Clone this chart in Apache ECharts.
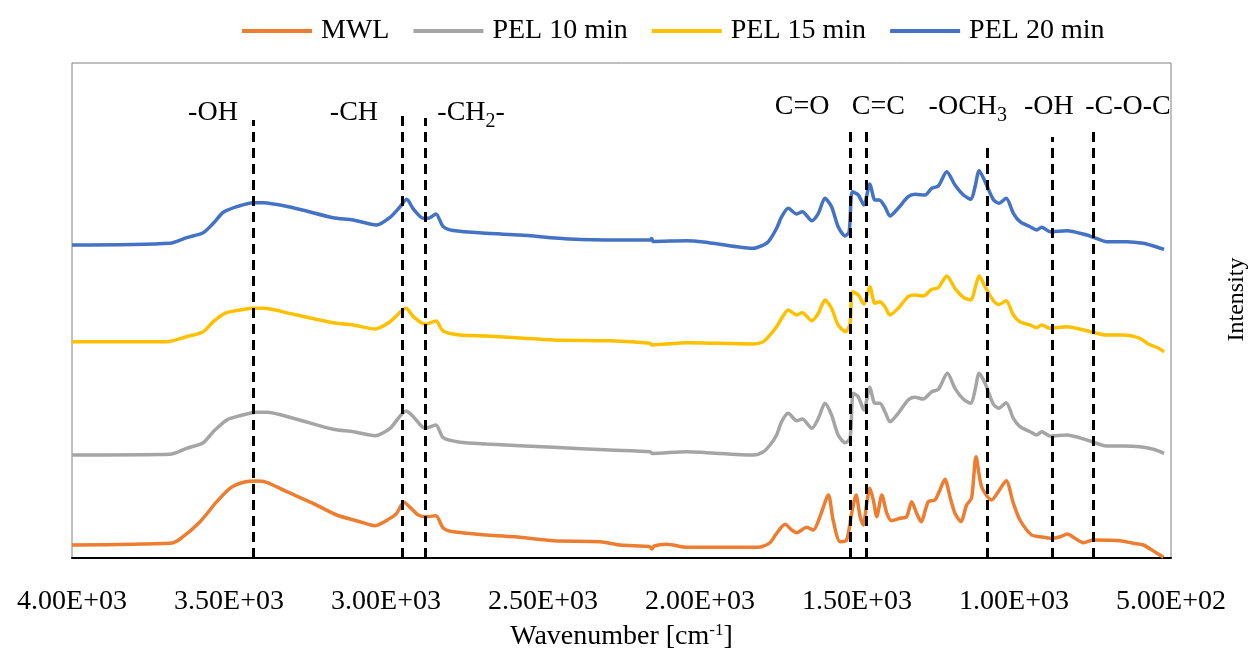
<!DOCTYPE html>
<html>
<head>
<meta charset="utf-8">
<script src="https://cdn.jsdelivr.net/npm/echarts@6.0.0/dist/echarts.min.js"></script>
<style>
html,body{margin:0;padding:0;background:#fff;}
#chart{width:1252px;height:656px;}
</style>
</head>
<body>
<div id="chart"></div>
<script>
// ---- data: [wavenumber (cm-1), intensity (a.u., stacked offset)] ----
const seriesNames = ['MWL', 'PEL 10 min', 'PEL 15 min', 'PEL 20 min'];
const seriesColors = ['#ED7D31', '#A5A5A5', '#FFC000', '#4472C4'];

const mwl = [[4000,13],[3688,14.7],[3656,19],[3592,36.3],[3539,56.3],[3497,69.7],[3454,75.7],[3412,77],[3380,75.7],[3316,66.3],[3232,54.7],[3157,43],[3083,36.3],[3035,32.3],[2987,39.7],[2966,44.7],[2943,55.7],[2918,49],[2897,43],[2870,41.3],[2841,42.3],[2818,30],[2786,26.3],[2679,23],[2573,20.7],[2467,17.3],[2318,16.3],[2255,13],[2159,11.3],[2153,9],[2146,12],[2106,13.7],[2042,10.7],[1936,10.7],[1830,10.7],[1804,11.3],[1777,15.3],[1756,24.7],[1729,33.7],[1708,28],[1692,25.3],[1660,30.7],[1639,28],[1618,41.3],[1591,63],[1576,38],[1554,16.3],[1533,18],[1517,44.7],[1503,63],[1490,41.3],[1480,33],[1469,54.7],[1459,69.7],[1448,58],[1437,41.3],[1421,63],[1405,44.7],[1390,37.3],[1363,39.7],[1342,41.3],[1326,56.3],[1310,44.7],[1296,36.3],[1273,56.3],[1252,58],[1236,68],[1220,78.7],[1204,61.3],[1188,44.7],[1169,36.3],[1151,53],[1135,60],[1121,101.3],[1103,71],[1071,58],[1050,66.3],[1025,77.3],[1002,54.7],[981,38],[944,23],[917,21.3],[880,19.7],[853,21.3],[830,24],[806,19.7],[779,15.3],[747,18],[662,17.3],[620,14.7],[588,13],[561,8],[524,0.7]];

const pel10 = [[4000,103],[3688,103.7],[3635,109.7],[3582,115.3],[3550,126.3],[3507,138],[3465,142.3],[3412,145.7],[3380,145.7],[3295,139.7],[3168,128.7],[3104,126.3],[3035,122.3],[2987,129.7],[2936,147],[2913,141.3],[2876,129.7],[2841,133],[2818,120.3],[2764,115.7],[2679,114],[2467,110.7],[2287,108],[2159,106.3],[2153,104.5],[2042,106.3],[1979,105.3],[1830,103],[1798,106.3],[1777,113],[1756,123],[1740,136.3],[1719,144.7],[1692,137.3],[1674,139],[1644,129.7],[1623,139.7],[1602,154.7],[1581,143],[1560,123],[1538,115.3],[1522,119.7],[1512,164.7],[1496,161.3],[1478,148],[1459,170.7],[1443,154.7],[1427,154.7],[1411,146.3],[1395,136.3],[1369,144.7],[1337,158],[1315,160.7],[1289,159],[1262,166.3],[1241,168.7],[1212,184.7],[1188,169.7],[1161,158.7],[1137,154.7],[1124,168],[1111,184.7],[1092,174.7],[1066,154],[1048,149.7],[1025,155.3],[1002,139.7],[981,131.3],[949,126.3],[928,123],[912,126.3],[885,122],[832,123],[768,118],[705,112],[652,112],[599,111.3],[556,108.7],[522,104.7]];

const pel15 = [[4000,216.3],[3698,216.3],[3635,221.3],[3582,226.3],[3550,236.3],[3513,244.7],[3465,248],[3423,249.7],[3391,249.7],[3295,243.7],[3168,235.3],[3104,233],[3035,229],[2987,236.3],[2936,249.7],[2913,241.3],[2876,233.7],[2841,237],[2818,227],[2764,223],[2679,222],[2467,218],[2287,217.3],[2159,214.7],[2153,213],[2042,215.3],[1936,214.7],[1830,214],[1798,216.3],[1782,221.3],[1756,231.3],[1740,239.7],[1719,248],[1692,243],[1674,245.3],[1644,237.3],[1623,244.7],[1602,258],[1581,249.7],[1560,233],[1536,226.3],[1522,234.7],[1515,266.3],[1496,263],[1478,254],[1459,271.3],[1443,254.7],[1427,256.3],[1411,251.3],[1395,243],[1369,249.7],[1337,261.3],[1315,263],[1289,262],[1262,268.7],[1241,270.3],[1214,282],[1188,269.7],[1161,260.7],[1137,258],[1124,269.7],[1111,282],[1092,271.3],[1066,257.5],[1048,253.5],[1025,257.3],[1002,243],[981,236.3],[949,233],[928,230.3],[912,233],[885,229.7],[832,231.3],[768,227.3],[705,223],[652,223],[599,219.7],[572,214],[546,210.7],[522,206.3]];

const pel20 = [[4000,313],[3688,314.7],[3635,320.3],[3582,325.3],[3550,334.7],[3518,345.7],[3475,351.3],[3423,355.3],[3392,355.3],[3296,350.3],[3169,340.3],[3105,338],[3030,333],[2987,340.7],[2955,351.3],[2934,358.7],[2913,349],[2881,339.7],[2865,339.7],[2841,344],[2818,331.5],[2786,327.5],[2679,324.7],[2573,323],[2414,319],[2255,318],[2159,318],[2154,319.5],[2149,316.5],[2042,317.3],[1989,316],[1883,311.3],[1830,309.7],[1798,313],[1782,316.3],[1756,329.7],[1740,341.3],[1719,349.7],[1692,344],[1674,346.3],[1644,337.3],[1623,344.7],[1602,359.7],[1581,351.3],[1560,331.3],[1538,322],[1525,326.3],[1515,366.3],[1496,363],[1478,353],[1459,374],[1443,358],[1429,358],[1411,351.3],[1395,342],[1369,349.7],[1337,361.3],[1315,363.7],[1283,363],[1262,369.7],[1241,372],[1214,386.3],[1188,373],[1161,363],[1137,358.7],[1124,371.3],[1111,387.3],[1092,376.3],[1066,358.5],[1048,354.7],[1025,359.7],[1002,344.7],[981,336.3],[949,331.3],[928,328],[912,330.7],[885,326.3],[832,327.3],[768,323],[747,320.7],[705,316.3],[641,316.3],[588,314.7],[556,312],[522,308.7]];

// x-axis ticks
const xTicks = [4000, 3500, 3000, 2500, 2000, 1500, 1000, 500];
const xTickLabels = ['4.00E+03','3.50E+03','3.00E+03','2.50E+03','2.00E+03','1.50E+03','1.00E+03','5.00E+02'];

// band assignment markers
const markerWn = [3424, 2948, 2876, 1522, 1472, 1084, 878, 748];
const markerTop = [438, 444, 440, 427, 427, 413, 421, 426];
const annotText = ['-OH', '-CH', '-CH{s|2}-', 'C=O', 'C=C', '-OCH{s|3}', '-OH', '-C-O-C'];
const annotWn = [3551, 3102, 2729, 1675, 1432, 1147, 889, 637];
const annotY = [445, 445, 445, 451, 451, 451, 451, 451];

const FONT = "'Liberation Serif','Times New Roman',serif";
const allData = [mwl, pel10, pel15, pel20];

const chart = echarts.init(document.getElementById('chart'), null, {renderer: 'canvas'});

const series = allData.map((d, i) => ({
  name: seriesNames[i],
  type: 'line',
  data: d,
  showSymbol: false,
  symbol: 'none',
  smooth: 0.25,
  color: seriesColors[i],
  lineStyle: {width: 3.5, color: seriesColors[i]},
  itemStyle: {color: seriesColors[i]},
  z: 2,
  silent: true
}));

series.push({
  name: 'markers',
  type: 'line',
  data: [],
  symbol: 'none',
  silent: true,
  z: 5,
  markLine: {
    silent: true,
    symbol: ['none', 'none'],
    animation: false,
    label: {show: false},
    lineStyle: {color: '#000', width: 3, type: [10, 6]},
    data: markerWn.map((w, i) => [{coord: [w, 0]}, {coord: [w, markerTop[i]]}])
  },
  markPoint: {
    silent: true,
    animation: false,
    symbol: 'circle',
    symbolSize: 1,
    itemStyle: {color: 'rgba(0,0,0,0)'},
    label: {
      show: true,
      position: 'inside',
      color: '#000',
      fontFamily: FONT,
      fontSize: 28,
      rich: {
        s: {fontFamily: FONT, fontSize: 20, color: '#000', verticalAlign: 'bottom', padding: [18, 0, 0, 0]}
      }
    },
    data: annotText.map((t, i) => ({coord: [annotWn[i], annotY[i]], value: t, label: {formatter: t}}))
  }
});

chart.setOption({
  animation: false,
  backgroundColor: '#fff',
  textStyle: {fontFamily: FONT},
  grid: {left: 72, right: 81, top: 63, bottom: 98, show: true, borderColor: '#808080', borderWidth: 1, containLabel: false, outerBoundsMode: 'none'},
  legend: {
    data: seriesNames,
    left: 237,
    top: 12,
    icon: 'rect',
    itemWidth: 70,
    itemHeight: 4,
    itemGap: 24,
    textStyle: {fontFamily: FONT, fontSize: 28, color: '#000', padding: [0, 0, 0, 4]}
  },
  xAxis: {
    type: 'value',
    inverse: true,
    min: 500,
    max: 4000,
    interval: 500,
    axisLine: {show: true, onZero: false, lineStyle: {color: '#000', width: 2}},
    axisTick: {show: false},
    splitLine: {show: false},
    axisLabel: {
      margin: 30,
      color: '#000',
      fontFamily: FONT,
      fontSize: 28,
      formatter: v => { const k = xTicks.indexOf(v); return k >= 0 ? xTickLabels[k] : ''; }
    },
    name: 'Wavenumber [cm{sup|-1}]',
    nameLocation: 'middle',
    nameGap: 64,
    nameTextStyle: {
      color: '#000', fontFamily: FONT, fontSize: 28,
      rich: {sup: {fontFamily: FONT, fontSize: 17, color: '#000', verticalAlign: 'top', padding: [0, 0, 12, 0]}}
    }
  },
  yAxis: {
    type: 'value',
    position: 'right',
    min: 0,
    max: 495,
    axisLine: {show: false},
    axisTick: {show: false},
    axisLabel: {show: false},
    splitLine: {show: false},
    name: 'Intensity',
    nameLocation: 'middle',
    nameRotate: 90,
    nameGap: 54,
    nameTextStyle: {color: '#000', fontFamily: FONT, fontSize: 24, padding: [0, 0, 0, 22]}
  },
  series: series
});
</script>
</body>
</html>
